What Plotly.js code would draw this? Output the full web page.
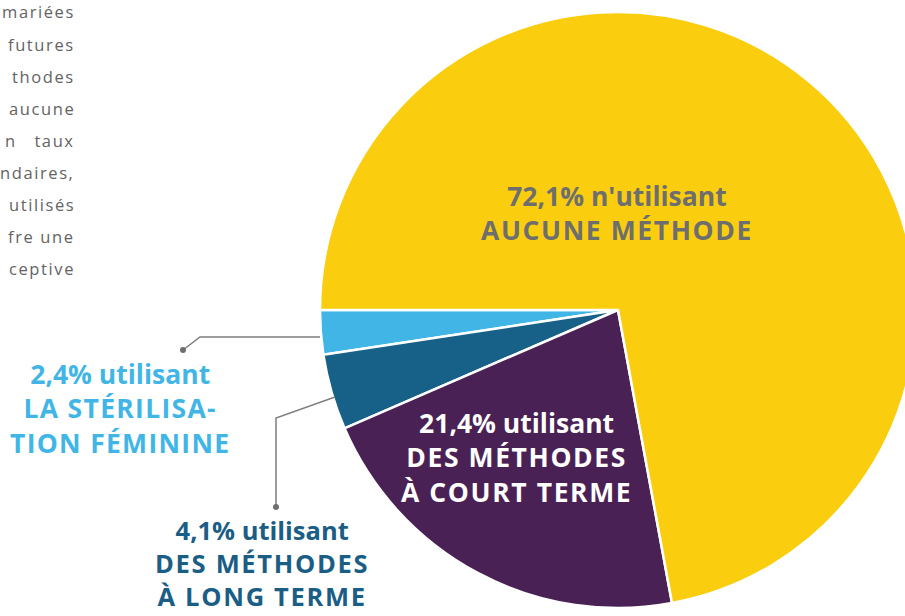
<!DOCTYPE html>
<html>
<head>
<meta charset="utf-8">
<script src="https://cdn.plot.ly/plotly-3.0.1.min.js"></script>
<style>
html, body { margin: 0; padding: 0; overflow: hidden; background: #ffffff; }
#chart { width: 940px; height: 616px; }
</style>
</head>
<body>
<div id="chart"></div>
<script>
// Data
const categories = ["Stérilisation féminine", "Méthodes à long terme", "Méthodes à court terme", "Aucune méthode"];
const shares = [2.4, 4.1, 21.4, 72.1];
const sliceColors = ["#41B6E6", "#176087", "#4A2155", "#FACE0F"];
const labelFirstLines = ["2,4% utilisant", "4,1% utilisant", "21,4% utilisant", "72,1% n'utilisant"];
const labelCapsLines = [
  ["LA STÉRILISA-", "TION FÉMININE"],
  ["DES MÉTHODES", "À LONG TERME"],
  ["DES MÉTHODES", "À COURT TERME"],
  ["AUCUNE MÉTHODE"]
];
const labelColors = ["#41B6E6", "#1B5E85", "#FFFFFF", "#6E6E6E"];
const paragraphLines = ["mariées", "futures", "thodes", "aucune", "n&nbsp;&nbsp;&nbsp;taux", "ndaires,", "utilisés", "fre une", "ceptive"];

const W = 940, H = 616;
const px = x => x / W;
const py = y => 1 - y / H;

const trace = {
  type: "pie",
  labels: categories,
  values: shares,
  sort: false,
  direction: "counterclockwise",
  rotation: -98.64,
  marker: { colors: sliceColors, line: { color: "#ffffff", width: 2.5 } },
  textinfo: "none",
  hoverinfo: "none",
  showlegend: false,
  domain: { x: [px(320), px(916)], y: [(306 - 298) / H, (306 + 298) / H] }
};

const labelPos = [
  { x: 120, y: 408, size: 26.5, ls: 1.3, anchor: "middle" },
  { x: 262, y: 614, size: 25.5, ls: 1.7, anchor: "bottom" },
  { x: 516, y: 457, size: 26.5, ls: 1.6, anchor: "middle" },
  { x: 617, y: 213, size: 26.5, ls: 1.6, anchor: "middle" }
];
const labelFont = "'Open Sans', sans-serif";
const annotations = labelPos.map((p, i) => ({
  xref: "paper", yref: "paper", x: px(p.x), y: py(p.y),
  xanchor: "center", yanchor: p.anchor, showarrow: false, align: "center",
  borderpad: 0,
  text: "<b>" + labelFirstLines[i] + "<br>" +
        labelCapsLines[i].map(s => '<span style="letter-spacing:' + p.ls + 'px">' + s + '</span>').join("<br>") + "</b>",
  font: { family: labelFont, size: p.size, color: labelColors[i] }
}));

paragraphLines.forEach((t, i) => {
  annotations.push({
    xref: "paper", yref: "paper", x: px(77), y: py(12 + i * 32.1),
    xanchor: "right", yanchor: "middle", showarrow: false, align: "right",
    text: '<span style="letter-spacing:1.6px">' + t + '</span>',
    font: { family: "'Open Sans', sans-serif", size: 16.5, color: "#636363" }
  });
});

const lineStyle = { color: "#7F7F7F", width: 1.5 };
const shapes = [
  { type: "path", xref: "paper", yref: "paper",
    path: `M ${px(320)} ${py(337)} L ${px(200)} ${py(337)} L ${px(183)} ${py(350)}`, line: lineStyle },
  { type: "path", xref: "paper", yref: "paper",
    path: `M ${px(335)} ${py(397)} L ${px(276)} ${py(418)} L ${px(276)} ${py(507)}`, line: lineStyle },
  { type: "circle", xref: "paper", yref: "paper",
    x0: px(180), x1: px(186), y0: py(347), y1: py(353), fillcolor: "#6F6F6F", line: { width: 0 } },
  { type: "circle", xref: "paper", yref: "paper",
    x0: px(273), x1: px(279), y0: py(504), y1: py(510), fillcolor: "#6F6F6F", line: { width: 0 } }
];

const layout = {
  width: W, height: H,
  margin: { l: 0, r: 0, t: 0, b: 0 },
  paper_bgcolor: "#ffffff",
  annotations: annotations,
  shapes: shapes
};

Plotly.newPlot("chart", [trace], layout, { displayModeBar: false, staticPlot: true });
</script>
</body>
</html>
